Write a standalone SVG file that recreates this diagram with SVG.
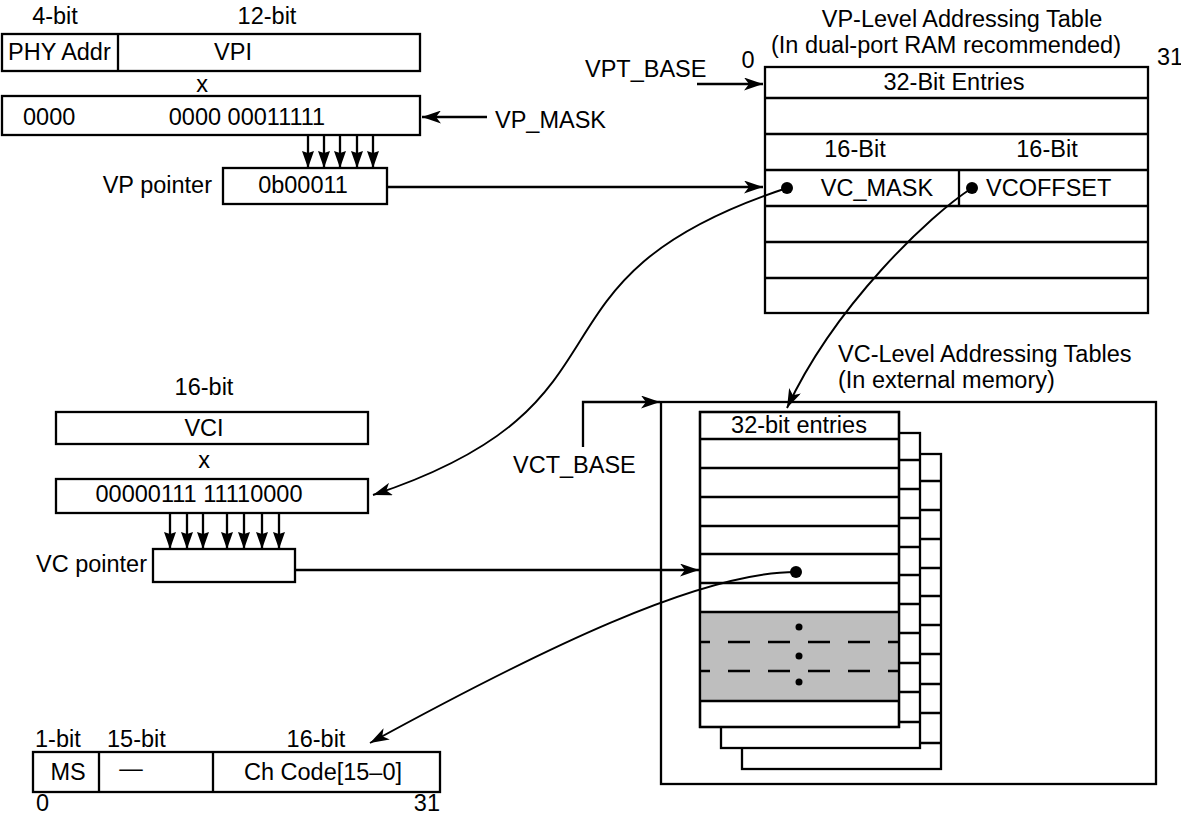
<svg xmlns="http://www.w3.org/2000/svg" width="1181" height="814" viewBox="0 0 1181 814">
<style>
text{font-family:"Liberation Sans",Arial,Helvetica,sans-serif;font-size:23.5px;fill:#000}
.m{text-anchor:middle}
.e{text-anchor:end}
.b{fill:#fff;stroke:#000;stroke-width:2.3}
.l{fill:none;stroke:#000;stroke-width:2.3}
.c{fill:none;stroke:#000;stroke-width:1.9}
.d{fill:none;stroke:#000;stroke-width:2.3;stroke-dasharray:22 18;stroke-dashoffset:12}
</style>
<defs>
<marker id="ah" viewBox="0 0 19 13" refX="19" refY="6.5" markerWidth="19" markerHeight="13" markerUnits="userSpaceOnUse" orient="auto">
<path d="M0,0 L19,6.5 L0,13 L5,6.5 Z" fill="#000"/>
</marker>
<marker id="ad" viewBox="0 0 12 17" refX="6" refY="17" markerWidth="12" markerHeight="17" markerUnits="userSpaceOnUse" orient="0">
<path d="M0,0 L6,2 L12,0 L6,17 Z" fill="#000"/>
</marker>
</defs>

<g id="vp-input">
<text x="55" y="24" class="m">4-bit</text>
<text x="267" y="24" class="m">12-bit</text>
<rect x="2" y="34" width="418" height="37" class="b"/>
<line x1="118" y1="34" x2="118" y2="71" class="l"/>
<text x="8" y="60">PHY Addr</text>
<text x="233" y="60" class="m">VPI</text>
<text x="202" y="92" class="m">x</text>
</g>

<g id="vp-mask">
<rect x="2" y="96" width="418" height="39" class="b"/>
<text x="23" y="125">0000</text>
<text x="247" y="125" class="m">0000 00011111</text>
<text x="495" y="128">VP_MASK</text>
</g>

<g id="vp-pointer">
<rect x="223" y="168" width="164" height="36" class="b"/>
<text x="303" y="193" class="m">0b00011</text>
<text x="212" y="193" class="e">VP pointer</text>
</g>

<g id="vp-table">
<text x="962" y="27" class="m">VP-Level Addressing Table</text>
<text x="946" y="53" class="m">(In dual-port RAM recommended)</text>
<text x="748" y="68" class="m">0</text>
<text x="1157" y="65">31</text>
<text x="585" y="77">VPT_BASE</text>
<rect x="765" y="67" width="383" height="246" class="b"/>
<path d="M765,98H1148M765,134H1148M765,170H1148M765,206H1148M765,242H1148M765,278H1148M959,170V206" class="l"/>
<text x="954" y="90" class="m">32-Bit Entries</text>
<text x="855" y="157" class="m">16-Bit</text>
<text x="1047" y="157" class="m">16-Bit</text>
<text x="877" y="196" class="m">VC_MASK</text>
<text x="986" y="196">VCOFFSET</text>
<circle cx="787" cy="188" r="6" fill="#000"/>
<circle cx="972" cy="188" r="6" fill="#000"/>
</g>

<g id="vc-input">
<text x="204" y="395" class="m">16-bit</text>
<rect x="56" y="412" width="312" height="32" class="b"/>
<text x="204" y="436" class="m">VCI</text>
<text x="204" y="468" class="m">x</text>
</g>

<g id="vc-mask">
<rect x="56" y="479" width="312" height="34" class="b"/>
<text x="199" y="502" class="m">00000111 11110000</text>
</g>

<g id="vc-pointer">
<rect x="153" y="549" width="142" height="33" class="b"/>
<text x="147" y="572" class="e">VC pointer</text>
</g>

<g id="vc-tables">
<text x="838" y="362">VC-Level Addressing Tables</text>
<text x="838" y="388">(In external memory)</text>
<text x="513" y="473">VCT_BASE</text>
<rect x="661" y="402" width="495" height="382" class="b"/>
<g transform="translate(42,42)">
<rect x="700" y="412" width="199" height="315" class="b"/>
<path d="M700,439H899M700,468H899M700,497H899M700,526H899M700,554H899M700,583H899M700,612H899M700,642H899M700,671H899M700,701H899" class="l"/>
</g>
<g transform="translate(21,21)">
<rect x="700" y="412" width="199" height="315" class="b"/>
<path d="M700,439H899M700,468H899M700,497H899M700,526H899M700,554H899M700,583H899M700,612H899M700,642H899M700,671H899M700,701H899" class="l"/>
</g>
<rect x="700" y="412" width="199" height="315" class="b"/>
<rect x="700" y="612" width="199" height="89" fill="#bebebe"/>
<path d="M700,439H899M700,468H899M700,497H899M700,526H899M700,554H899M700,583H899M700,612H899M700,701H899" class="l"/>
<path d="M700,642H899M700,671H899" class="d"/>
<rect x="700" y="412" width="199" height="315" fill="none" stroke="#000" stroke-width="2.3"/>
<text x="799" y="433" class="m">32-bit entries</text>
<circle cx="796" cy="572" r="6" fill="#000"/>
<circle cx="799" cy="627" r="3.5" fill="#000"/>
<circle cx="799" cy="656" r="3.5" fill="#000"/>
<circle cx="799" cy="682" r="3.5" fill="#000"/>
</g>

<g id="ch-code">
<text x="35" y="747">1-bit</text>
<text x="107" y="747">15-bit</text>
<text x="316" y="747" class="m">16-bit</text>
<rect x="33" y="752" width="407" height="40" class="b"/>
<path d="M99,752V792M213,752V792" class="l"/>
<text x="68" y="780" class="m">MS</text>
<text x="131" y="776" class="m">—</text>
<text x="323" y="780" class="m">Ch Code[15–0]</text>
<text x="36" y="811">0</text>
<text x="440" y="811" class="e">31</text>
</g>

<g id="connectors">
<line x1="487" y1="117" x2="422" y2="117" class="l" marker-end="url(#ah)"/>
<line x1="697" y1="84" x2="763" y2="84" class="l" marker-end="url(#ah)"/>
<line x1="387" y1="187" x2="763" y2="187" class="l" marker-end="url(#ah)"/>
<line x1="308" y1="135" x2="308" y2="168" class="l" marker-end="url(#ad)"/>
<line x1="324" y1="135" x2="324" y2="168" class="l" marker-end="url(#ad)"/>
<line x1="340" y1="135" x2="340" y2="168" class="l" marker-end="url(#ad)"/>
<line x1="357" y1="135" x2="357" y2="168" class="l" marker-end="url(#ad)"/>
<line x1="373" y1="135" x2="373" y2="168" class="l" marker-end="url(#ad)"/>
<line x1="170" y1="513" x2="170" y2="549" class="l" marker-end="url(#ad)"/>
<line x1="187" y1="513" x2="187" y2="549" class="l" marker-end="url(#ad)"/>
<line x1="203" y1="513" x2="203" y2="549" class="l" marker-end="url(#ad)"/>
<line x1="227" y1="513" x2="227" y2="549" class="l" marker-end="url(#ad)"/>
<line x1="244" y1="513" x2="244" y2="549" class="l" marker-end="url(#ad)"/>
<line x1="262" y1="513" x2="262" y2="549" class="l" marker-end="url(#ad)"/>
<line x1="279" y1="513" x2="279" y2="549" class="l" marker-end="url(#ad)"/>
<line x1="295" y1="570" x2="699" y2="570" class="l" marker-end="url(#ah)"/>
<path d="M583,447V402H660" class="l" marker-end="url(#ah)"/>
<path d="M787,188C507,280 653,402 373,495" class="c" marker-end="url(#ah)"/>
<path d="M972,188C930,215 835,305 787,408" class="c" marker-end="url(#ah)"/>
<path d="M796,572C700,572 540,650 370,743" class="c" marker-end="url(#ah)"/>
</g>
</svg>
